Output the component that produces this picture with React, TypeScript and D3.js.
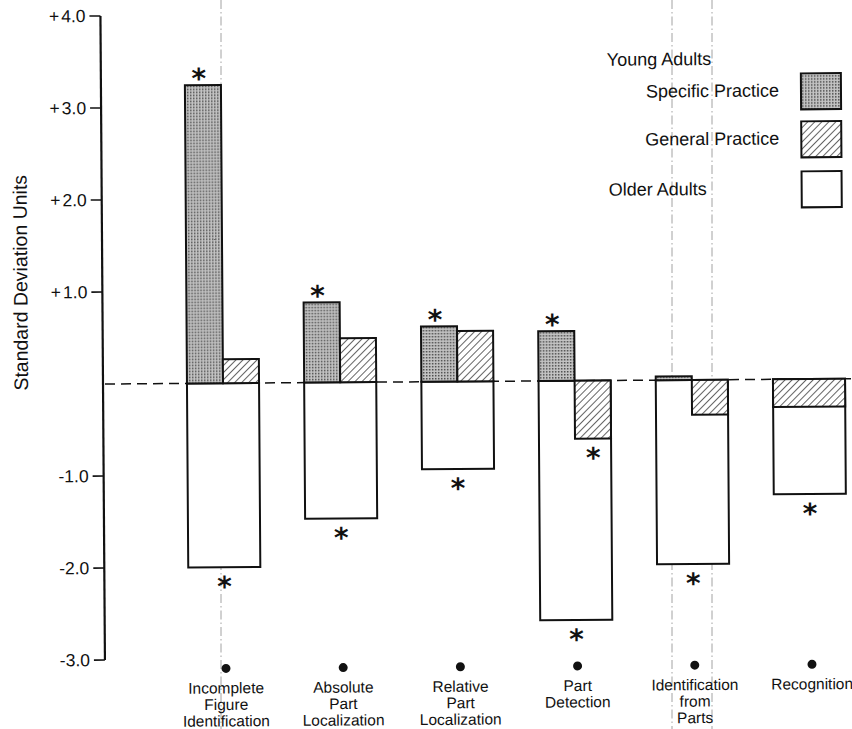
import React from "react";
import * as d3 from "d3";

const categories = [
  "Incomplete Figure Identification",
  "Absolute Part Localization",
  "Relative Part Localization",
  "Part Detection",
  "Identification from Parts",
  "Recognition",
];
const categoryLines = [
  ["Incomplete", "Figure", "Identification"],
  ["Absolute", "Part", "Localization"],
  ["Relative", "Part", "Localization"],
  ["Part", "Detection"],
  ["Identification", "from", "Parts"],
  ["Recognition"],
];
// Young adults, specific practice (null = not shown)
const specificPractice: (number | null)[] = [3.24, 0.87, 0.6, 0.54, 0.04, null];
// Young adults, general practice
const generalPractice = [0.26, 0.48, 0.55, -0.63, -0.38, -0.3];
// Older adults
const olderAdults = [-2.0, -1.48, -0.95, -2.6, -2.0, -1.25];
// significance markers
const specificSig = [true, true, true, true, false, false];
const generalSig = [false, false, false, true, false, false];
const olderSig = [true, true, true, true, true, true];

const yTicks = [4, 3, 2, 1, -1, -2, -3];
const yTickSigns = ["+", "+", "+", "+", "-", "-", "-"];
const yTickNums = ["4.0", "3.0", "2.0", "1.0", "1.0", "2.0", "3.0"];
const legendItems = [
  { label: "Specific Practice", key: "specific" },
  { label: "General Practice", key: "general" },
  { label: "Older Adults", key: "older" },
];
const yTitle = "Standard Deviation Units";
const youngTitle = "Young Adults";

const W = 852;
const H = 729;
const FONT = "'Liberation Sans', Arial, Helvetica, sans-serif";

export default function App() {
  const y = d3.scaleLinear().domain([-3, 4]).range([657.8, 13.7]);
  const x = d3
    .scaleBand<string>()
    .domain(categories)
    .range([164.4, 164.4 + 6 * 117.2])
    .paddingInner(0.385)
    .paddingOuter(0.1925);
  const bw = x.bandwidth();
  const xs = d3.scaleBand<string>().domain(["specific", "general"]).range([0, bw]);
  const sw = xs.bandwidth();
  const axisX = 103;
  const y0 = y(0);

  const fillFor = (k: string) =>
    k === "specific" ? "url(#stipple)" : k === "general" ? "url(#hatch)" : "#fff";

  const star = (cx: number, cyCenter: number, key: string) => (
    <text
      key={key}
      x={cx}
      y={cyCenter + 16}
      textAnchor="middle"
      fontFamily="'DejaVu Sans', sans-serif"
      fontWeight="bold"
      fontSize={28}
      fill="#111"
    >
      *
    </text>
  );

  return (
    <svg
      width={W}
      height={H}
      style={{ position: "absolute", left: 0, top: 0, display: "block", background: "#fff" }}
    >
      <defs>
        <pattern id="stipple" width="3" height="3" patternUnits="userSpaceOnUse">
          <rect width="3" height="3" fill="#c4c4c4" />
          <rect x="0" y="0" width="1.5" height="1.5" fill="#4a4a4a" />
        </pattern>
        <pattern
          id="hatch"
          width="5"
          height="5"
          patternUnits="userSpaceOnUse"
          patternTransform="rotate(45)"
        >
          <rect width="5" height="5" fill="#fff" />
          <line x1="0" y1="0" x2="0" y2="5" stroke="#111" strokeWidth="1.3" />
        </pattern>
      </defs>
      <rect width={W} height={H} fill="#fff" />

      {/* faint dash-dot vertical scan lines */}
      {[221, 672, 712].map((vx) => (
        <line
          key={vx}
          x1={vx}
          x2={vx}
          y1={0}
          y2={H}
          stroke="#8a8a8a"
          strokeWidth={0.8}
          strokeDasharray="9 3 1.5 3"
        />
      ))}

      <g transform="rotate(-0.4 426 382)" fontFamily={FONT}>
        {/* y axis */}
        <line x1={axisX} x2={axisX} y1={y(4)} y2={y(-3)} stroke="#111" strokeWidth={2.2} />
        {yTicks.map((t, i) => (
          <g key={t}>
            <line x1={axisX - 11} x2={axisX} y1={y(t)} y2={y(t)} stroke="#111" strokeWidth={1.6} />
            <text x={axisX - 15} y={y(t) + 6} textAnchor="end" fontSize={17.5} fill="#111">
              <tspan>{yTickSigns[i]}</tspan>
              <tspan dx={yTickSigns[i] === "+" ? 2 : 0}>{yTickNums[i]}</tspan>
            </text>
          </g>
        ))}
        <text
          transform={`translate(28, 280) rotate(-90)`}
          textAnchor="middle"
          fontSize={19.5}
          fill="#111"
        >
          {yTitle}
        </text>

        {/* zero dashed line */}
        <line
          x1={axisX + 2}
          x2={W}
          y1={y0}
          y2={y0}
          stroke="#111"
          strokeWidth={1.5}
          strokeDasharray="10 6"
        />

        {/* bars */}
        {categories.map((c, i) => {
          const bx = x(c)!;
          const sp = specificPractice[i];
          const gp = generalPractice[i];
          const od = olderAdults[i];
          const gx = sp === null ? bx : bx + xs("general")!;
          const gw = sp === null ? bw : sw;
          return (
            <g key={c}>
              <rect
                x={bx}
                y={Math.min(y(od), y0)}
                width={bw}
                height={Math.abs(y(od) - y0)}
                fill="#fff"
                stroke="#111"
                strokeWidth={2}
              />
              {sp !== null && (
                <rect
                  x={bx + xs("specific")!}
                  y={Math.min(y(sp), y0)}
                  width={sw}
                  height={Math.abs(y(sp) - y0)}
                  fill={fillFor("specific")}
                  stroke="#111"
                  strokeWidth={2}
                />
              )}
              <rect
                x={gx}
                y={Math.min(y(gp), y0)}
                width={gw}
                height={Math.abs(y(gp) - y0)}
                fill={fillFor("general")}
                stroke="#111"
                strokeWidth={2}
              />
              {sp !== null && specificSig[i] &&
                star(bx + xs("specific")! + sw / 2 - 4, y(sp) - 13, "s" + i)}
              {generalSig[i] && star(gx + gw / 2, y(gp) + 13, "g" + i)}
              {olderSig[i] && star(bx + bw / 2, y(od) + 13, "o" + i)}
            </g>
          );
        })}

        {/* category markers & labels */}
        {categories.map((c, i) => {
          const cx = x(c)! + bw / 2 + 1;
          return (
            <g key={"lab" + c}>
              <circle cx={cx} cy={667} r={4.5} fill="#111" />
              {categoryLines[i].map((ln, j) => (
                <text
                  key={j}
                  x={cx}
                  y={692 + j * 16.5}
                  textAnchor="middle"
                  fontSize={15.5}
                  fill="#111"
                >
                  {ln}
                </text>
              ))}
            </g>
          );
        })}

        {/* legend */}
        <text x={609} y={67} fontSize={18} fill="#111">
          {youngTitle}
        </text>
        {legendItems.map((it, i) => {
          const by = [76, 124, 174][i];
          return (
            <g key={it.key}>
              <text
                x={it.key === "older" ? 610 : 781}
                y={by + 23}
                textAnchor={it.key === "older" ? "start" : "end"}
                fontSize={18}
                fill="#111"
              >
                {it.label}
              </text>
              <rect
                x={803}
                y={by}
                width={40}
                height={36}
                fill={fillFor(it.key)}
                stroke="#111"
                strokeWidth={2}
              />
            </g>
          );
        })}
      </g>
    </svg>
  );
}
